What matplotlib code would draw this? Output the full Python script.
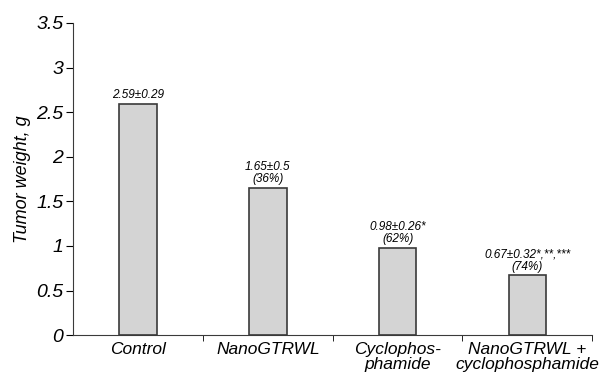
import numpy as np
import matplotlib
matplotlib.use("Agg")
import matplotlib.pyplot as plt

plt.rcParams["font.family"] = ["Liberation Sans", "DejaVu Sans"]

groups = ["Control", "NanoGTRWL", "Cyclophos-\nphamide", "NanoGTRWL +\ncyclophosphamide"]
weights = [2.59, 1.65, 0.98, 0.67]
notes = ["2.59±0.29", "1.65±0.5\n(36%)", "0.98±0.26*\n(62%)", "0.67±0.32*,**,***\n(74%)"]

fig = plt.figure(figsize=(6.15, 3.83), dpi=100)
ax = fig.add_axes([0.119, 0.125, 0.844, 0.815])

x = np.arange(len(groups))
ax.bar(x, weights, width=0.29, color="#d4d4d4", edgecolor="#3a3a3a", linewidth=1.2)

for xi, w, n in zip(x, weights, notes):
    ax.text(xi, w + 0.03, n, ha="center", va="bottom", fontsize=8.5,
            style="italic", linespacing=1.0)

ax.set_xlim(-0.5, 3.5)
ax.set_ylim(0, 3.5)
ax.set_yticks(np.arange(0, 3.51, 0.5))
ax.set_yticklabels(["0", "0.5", "1", "1.5", "2", "2.5", "3", "3.5"],
                   fontsize=14, style="italic")
ax.set_xticks(x)
ax.set_xticklabels(groups, fontsize=12.5, style="italic", linespacing=1.0)
ax.tick_params(axis="x", which="major", length=0, pad=5)
ax.set_xticks(np.arange(0.5, 4, 1), minor=True)
ax.tick_params(axis="x", which="minor", length=4, direction="out")
ax.tick_params(axis="y", length=5, pad=2)
ax.set_ylabel("Tumor weight, g", fontsize=13, style="italic", labelpad=4)

for s in ["top", "right"]:
    ax.spines[s].set_visible(False)
ax.spines["left"].set_color("#3a3a3a")
ax.spines["bottom"].set_color("#3a3a3a")

fig.savefig("out.png", dpi=100)
